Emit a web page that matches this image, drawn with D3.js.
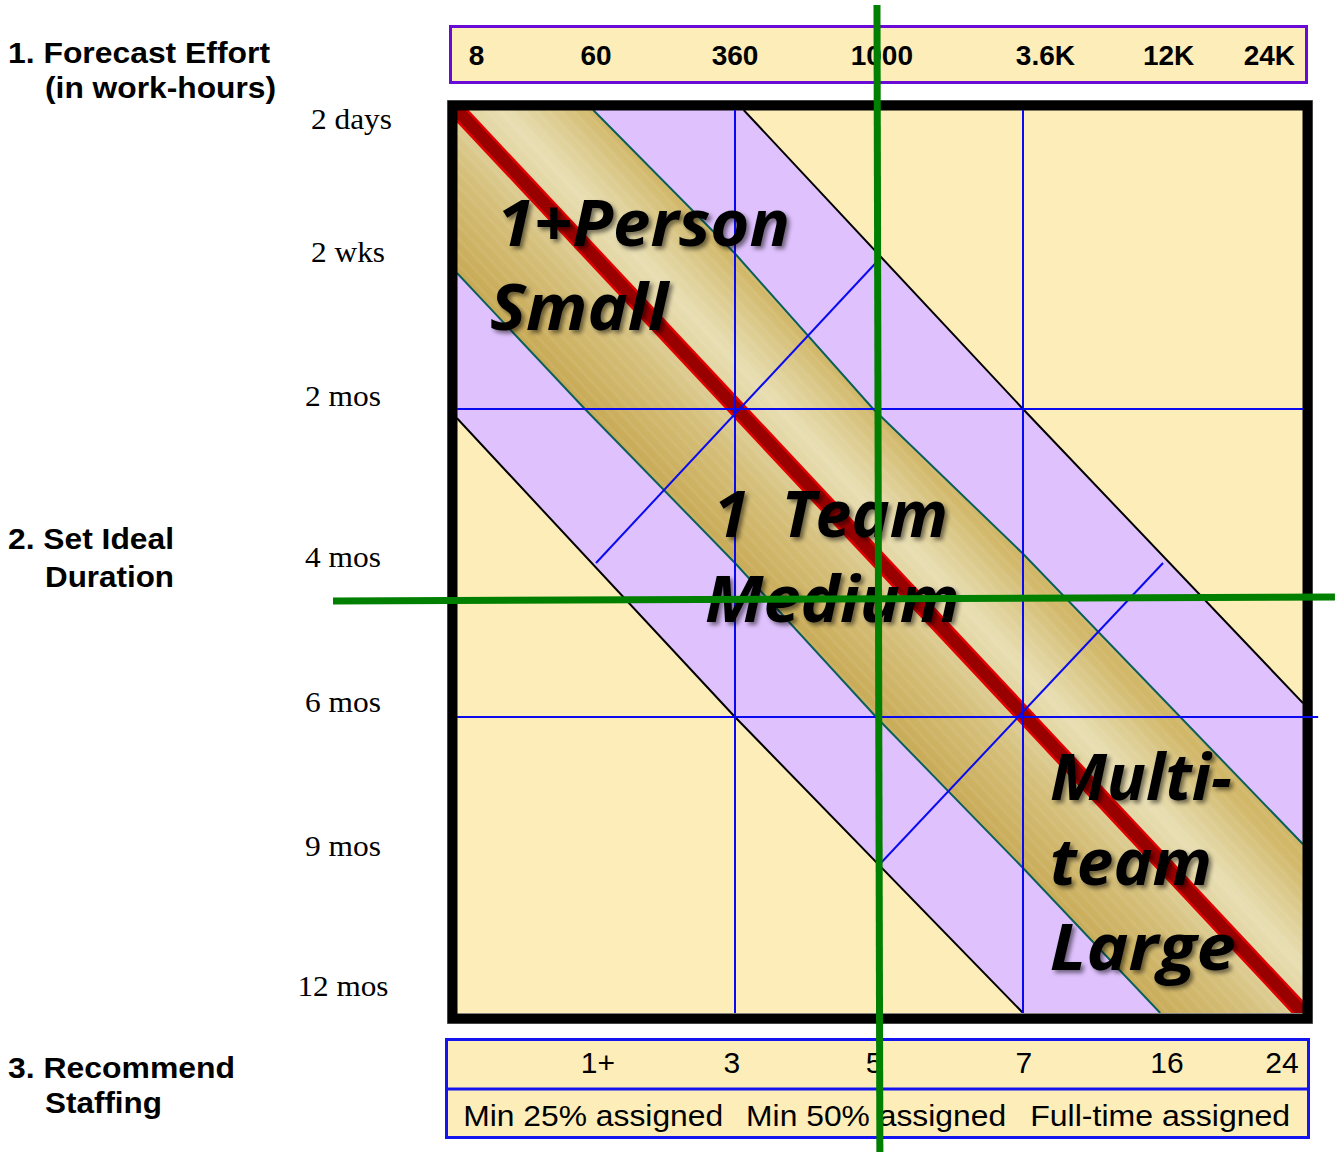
<!DOCTYPE html>
<html><head><meta charset="utf-8">
<script src="https://cdn.jsdelivr.net/npm/d3@7"></script>
<style>html,body{margin:0;padding:0;background:#fff}</style>
</head><body>
<svg id="c" width="1335" height="1152"></svg>
<script>
// ---------- data (in grid units: 0..3 across and down the matrix) ----------
const gridUnits = [0, 1, 2, 3];
const effortTicks = ["8", "60", "360", "1000", "3.6K", "12K", "24K"];
const effortTickAt = [0.07, 0.5, 1.0, 1.51, 2.08, 2.52, 2.88];
const durationTicks = ["2 days", "2 wks", "2 mos", "4 mos", "6 mos", "9 mos", "12 mos"];
const durationTickAt = [0.03, 0.475, 0.957, 1.48, 1.95, 2.436, 2.91];
const staffTicks = ["1+", "3", "5", "7", "16", "24"];
const staffTickAt = [0.507, 0.989, 1.483, 2.003, 2.514, 2.925];
const assignLabels = ["Min 25% assigned", "Min 50% assigned", "Full-time assigned"];
const assignAt = [0.49, 1.49, 2.49];
const stepTitles = ["1. Forecast Effort", "2. Set Ideal", "3. Recommend"];
const stepSubtitles = ["(in work-hours)", "Duration", "Staffing"];
const purpleBand = [[0, 0], [1.03, 0], [2, 1], [3, 1.955], [3, 3], [2, 3], [1, 2], [0, 1.03]];
const goldUpper = [[0.49, 0], [1, 0.48], [1.48, 1], [2, 1.47], [3, 2.43]];
const goldLower = [[2.49, 3], [2, 2.51], [1.49, 2], [1, 1.5], [0.46, 1], [0, 0.545]];
const purpleUpper = [[1.03, 0], [2, 1], [3, 1.955]];
const purpleLower = [[0, 1.03], [1, 2], [2, 3]];
const idealLine = [[0, 0], [3, 3]];
const crossLines = [[[0.5, 1.5], [1.5, 0.5]], [[1.5, 2.5], [2.5, 1.5]]];
const gridV = [[1, 0, 3], [2, 0, 3]];          // x, y0, y1
const gridH = [[1, 0, 3], [2, 0, 3.054]];      // y, x0, x1
const regionText = ["1+Person", "Small", "1\u2002Team", "Medium", "Multi-", "team", "Large"];
const regionAt = [[0.144, 0.455], [0.119, 0.736], [0.924, 1.416], [0.892, 1.69], [2.096, 2.281], [2.096, 2.568], [2.096, 2.855]];
const selection = { effort: [[1.493, -0.351], [1.503, 3.47]], duration: [[-0.446, 1.623], [3.114, 1.61]] };

// ---------- scales ----------
const x = d3.scaleLinear().domain(gridUnits).range([457, 735, 1023, 1303]);
const y = d3.scaleLinear().domain(gridUnits).range([110, 409, 717, 1013]);
const line = d3.line().x(d => x(d[0])).y(d => y(d[1]));

const YEL = "#fdedb9", PURP = "#dfc1fe", BLUE = "#0a0af0";
const svg = d3.select("#c");
const defs = svg.append("defs");
defs.append("clipPath").attr("id", "inner").append("rect")
  .attr("x", x(0)).attr("y", y(0)).attr("width", x(3) - x(0)).attr("height", y(3) - y(0));
const g1 = defs.append("linearGradient").attr("id", "gold").attr("gradientUnits", "userSpaceOnUse")
  .attr("x1", 655).attr("y1", 484).attr("x2", 809).attr("y2", 340).attr("spreadMethod", "pad");
[[0, "#c8aa55"], [0.35, "#d5bf7a"], [0.55, "#e1d4a0"], [0.68, "#e8deb2"], [0.85, "#dccb8e"], [1, "#d1b768"]]
  .forEach(s => g1.append("stop").attr("offset", s[0]).attr("stop-color", s[1]));
const pat = defs.append("pattern").attr("id", "stripes").attr("patternUnits", "userSpaceOnUse")
  .attr("width", 9).attr("height", 9).attr("patternTransform", "rotate(-43)");
pat.append("rect").attr("width", 3).attr("height", 9).attr("fill", "#ffffff").attr("opacity", 0.06);
const f = defs.append("filter").attr("id", "shadow").attr("x", "-10%").attr("y", "-20%").attr("width", "130%").attr("height", "150%");
f.append("feDropShadow").attr("dx", 3).attr("dy", 3).attr("stdDeviation", 2.2)
  .attr("flood-color", "#000").attr("flood-opacity", 0.5);

// ---------- top effort box ----------
svg.append("rect").attr("x", 450.5).attr("y", 26.5).attr("width", 856).attr("height", 56)
  .attr("fill", YEL).attr("stroke", "#6a0ad6").attr("stroke-width", 3);
svg.append("g").selectAll("text").data(effortTicks).join("text")
  .attr("x", (d, i) => x(effortTickAt[i])).attr("y", 65)
  .attr("text-anchor", "middle").attr("font-family", "Liberation Sans, Arial, sans-serif")
  .attr("font-weight", "bold").attr("font-size", 28).attr("fill", "#000").text(d => d);

// ---------- matrix ----------
const m = svg.append("g").attr("clip-path", "url(#inner)");
m.append("rect").attr("x", x(0)).attr("y", y(0)).attr("width", x(3) - x(0)).attr("height", y(3) - y(0)).attr("fill", YEL);
m.append("path").attr("d", line(purpleBand) + "Z").attr("fill", PURP);
const goldPoly = [[0, 0]].concat(goldUpper, [[3, 3]], goldLower);
m.append("path").attr("d", line(goldPoly) + "Z").attr("fill", "url(#gold)");
m.append("path").attr("d", line(goldPoly) + "Z").attr("fill", "url(#stripes)");
[goldUpper, goldLower].forEach(p => m.append("path").attr("d", line(p)).attr("fill", "none").attr("stroke", "#0b5f5a").attr("stroke-width", 2));
[purpleUpper, purpleLower].forEach(p => m.append("path").attr("d", line(p)).attr("fill", "none").attr("stroke", "#000").attr("stroke-width", 2));
m.append("path").attr("d", line(idealLine)).attr("stroke", "#e00000").attr("stroke-width", 17).attr("fill", "none");
m.append("path").attr("d", line(idealLine)).attr("stroke", "#990000").attr("stroke-width", 12).attr("fill", "none");

// frame
svg.append("rect").attr("x", 447.5).attr("y", 100.5).attr("width", 865).attr("height", 923)
  .attr("fill", "none").attr("stroke", "#888").attr("stroke-width", 1);
svg.append("rect").attr("x", 452.5).attr("y", 105.5).attr("width", 855).attr("height", 913)
  .attr("fill", "none").attr("stroke", "#000").attr("stroke-width", 10);

// blue grid and cross lines
const gg = svg.append("g").attr("stroke", BLUE).attr("stroke-width", 2);
gg.selectAll(".v").data(gridV).join("line").attr("x1", d => x(d[0])).attr("x2", d => x(d[0]))
  .attr("y1", d => y(d[1])).attr("y2", d => y(d[2]));
gg.selectAll(".h").data(gridH).join("line").attr("y1", d => y(d[0])).attr("y2", d => y(d[0]))
  .attr("x1", d => x(d[1])).attr("x2", d => x(d[2]));
gg.selectAll(".c").data(crossLines).join("path").attr("d", d => line(d)).attr("fill", "none");

// region labels
const rWidths = [293, 178, 234, 255, 182, 162, 186];
svg.append("g").attr("filter", "url(#shadow)").selectAll("text").data(regionText).join("text")
  .attr("x", (d, i) => x(regionAt[i][0])).attr("y", (d, i) => y(regionAt[i][1]))
  .attr("font-family", "Open Sans, Noto Sans, sans-serif").attr("font-weight", 700)
  .attr("font-style", "italic").attr("font-size", 64).attr("fill", "#000")
  .attr("textLength", (d, i) => rWidths[i]).attr("lengthAdjust", "spacingAndGlyphs").text(d => d);

// ---------- duration labels ----------
const dWidths = [81, 74, 76, 76, 76, 76, 91];
svg.append("g").selectAll("text").data(durationTicks).join("text")
  .attr("x", (d, i) => (i < 2 ? 311 + dWidths[i] / 2 : 343)).attr("y", (d, i) => y(durationTickAt[i]) + 10)
  .attr("text-anchor", "middle").attr("font-family", "Liberation Serif, Times New Roman, serif")
  .attr("font-size", 29.5).attr("fill", "#000")
  .attr("textLength", (d, i) => dWidths[i]).attr("lengthAdjust", "spacingAndGlyphs").text(d => d);

// ---------- step headings ----------
const hY = [[63, 98], [549, 587], [1078, 1113]];
const hW = [[262, 231], [166, 129], [227, 117]];
const hg = svg.append("g").attr("font-family", "Liberation Sans, Arial, sans-serif").attr("font-weight", "bold")
  .attr("font-size", 29).attr("fill", "#000");
hg.selectAll(".t").data(stepTitles).join("text").attr("x", 8).attr("y", (d, i) => hY[i][0])
  .attr("textLength", (d, i) => hW[i][0]).attr("lengthAdjust", "spacingAndGlyphs").text(d => d);
hg.selectAll(".s").data(stepSubtitles).join("text").attr("x", 45).attr("y", (d, i) => hY[i][1])
  .attr("textLength", (d, i) => hW[i][1]).attr("lengthAdjust", "spacingAndGlyphs").text(d => d);

// ---------- staffing box ----------
svg.append("rect").attr("x", 446.5).attr("y", 1039.5).attr("width", 862).attr("height", 98)
  .attr("fill", YEL).attr("stroke", "#1414f0").attr("stroke-width", 3);
svg.append("line").attr("x1", 446).attr("x2", 1309).attr("y1", 1089).attr("y2", 1089)
  .attr("stroke", "#1414f0").attr("stroke-width", 3);
svg.append("g").selectAll("text").data(staffTicks).join("text")
  .attr("x", (d, i) => x(staffTickAt[i])).attr("y", 1073).attr("text-anchor", "middle")
  .attr("font-family", "Liberation Sans, Arial, sans-serif").attr("font-size", 30).attr("fill", "#000").text(d => d);
svg.append("g").selectAll("text").data(assignLabels).join("text")
  .attr("x", (d, i) => x(assignAt[i])).attr("y", 1126).attr("text-anchor", "middle")
  .attr("font-family", "Liberation Sans, Arial, sans-serif").attr("font-size", 30).attr("fill", "#000")
  .attr("textLength", 260).attr("lengthAdjust", "spacingAndGlyphs").text(d => d);

// ---------- selection lines ----------
[selection.effort, selection.duration].forEach(p =>
  svg.append("path").attr("d", line(p)).attr("stroke", "#007f00").attr("stroke-width", 7).attr("fill", "none"));
</script>
</body></html>
